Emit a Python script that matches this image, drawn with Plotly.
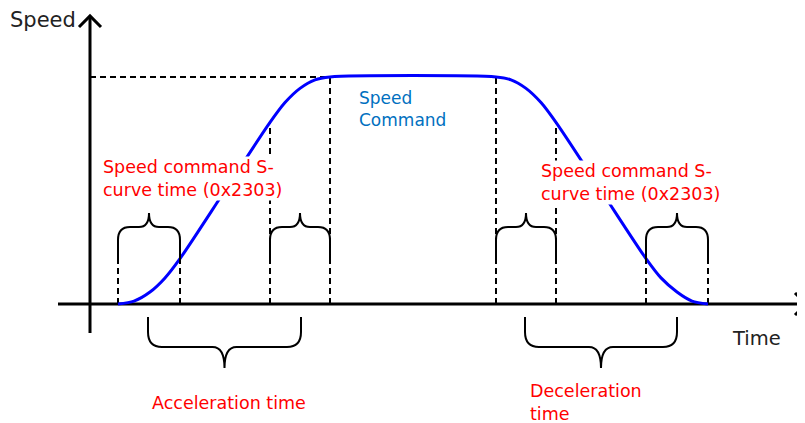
import plotly.graph_objects as go

# ---- data (time units, speed in % of command) ----
curve_t = [28, 44, 60, 75, 90, 135, 180, 195, 210, 225, 240,
           406, 421, 436, 451, 466, 511, 556, 571, 587, 602, 618]
curve_v = [0, 1.3, 5.3, 11.5, 20, 50, 80, 88.75, 95, 98.75, 100,
           100, 98.75, 95, 88.75, 80, 50, 20, 11.5, 5.3, 1.3, 0]

speed_cmd = 100
cmd_end_t = 240
guide_t = [28, 90, 180, 240, 406, 466, 556, 618]
guide_top = [18.5, 18.5, 80, 100, 100, 80, 18.5, 18.5]

scurve_spans = [(28, 90), (180, 240), (406, 466), (556, 618)]
time_spans = [(58, 211), (435, 587)]

labels = {
    "speed": "Speed",
    "time": "Time",
    "cmd": "Speed<br>Command",
    "scurve": "Speed command S-<br>curve time (0x2303)",
    "acc": "Acceleration time",
    "dec": "Deceleration<br>time",
}

# ---- geometry (page body has an 8px margin, compensated here) ----
X_RANGE = [-82, 723]
Y_RANGE = [-55.95, 130.4]

fig = go.Figure()

# axes
fig.add_trace(go.Scatter(x=[-32, 716], y=[0, 0], mode="lines",
                         line=dict(color="black", width=3), hoverinfo="skip"))
fig.add_trace(go.Scatter(x=[705, 716, 705], y=[4.85, 0, -4.85], mode="lines",
                         line=dict(color="black", width=3), hoverinfo="skip"))
fig.add_trace(go.Scatter(x=[0, 0], y=[-12.8, 126.9], mode="lines",
                         line=dict(color="black", width=3), hoverinfo="skip"))
fig.add_trace(go.Scatter(x=[-11, 0, 11], y=[122, 126.9, 122], mode="lines",
                         line=dict(color="black", width=3), hoverinfo="skip"))

# dashed guides
dash = dict(color="black", width=2, dash="6px,4px")
fig.add_trace(go.Scatter(x=[0, cmd_end_t], y=[speed_cmd, speed_cmd], mode="lines",
                         line=dash, hoverinfo="skip"))
for t, top in zip(guide_t, guide_top):
    fig.add_trace(go.Scatter(x=[t, t], y=[0, top], mode="lines",
                             line=dash, hoverinfo="skip"))

# speed curve
fig.add_trace(go.Scatter(x=curve_t, y=curve_v, mode="lines",
                         line=dict(color="#0000FF", width=3, shape="spline", smoothing=0.8),
                         hoverinfo="skip"))


def brace(xa, xb, yb, ys, yh, yt, r=12, r2=10):
    xm = (xa + xb) / 2
    return (f"M {xa},{yb} L {xa},{ys} Q {xa},{yh} {xa + r},{yh} "
            f"L {xm - r2},{yh} Q {xm},{yh} {xm},{yt} "
            f"Q {xm},{yh} {xm + r2},{yh} L {xb - r},{yh} "
            f"Q {xb},{yh} {xb},{ys} L {xb},{yb}")


shapes = []
for xa, xb in scurve_spans:
    shapes.append(dict(type="path", xref="x", yref="y",
                       path=brace(xa, xb, 18.5, 28.2, 33.9, 40.1),
                       line=dict(color="black", width=2)))
for xa, xb in time_spans:
    shapes.append(dict(type="path", xref="x", yref="y",
                       path=brace(xa, xb, -5.7, -12.3, -18.9, -28.2, r=14, r2=12),
                       line=dict(color="black", width=2)))

F = "DejaVu Sans"
ann = [
    dict(x=-82, y=125.1, text=labels["speed"], xanchor="left", yanchor="middle",
         font=dict(family=F, size=21, color="#222222")),
    dict(x=640, y=-15, text=labels["time"], xanchor="left", yanchor="middle",
         font=dict(family=F, size=19.5, color="#222222")),
    dict(x=267, y=85.9, text=labels["cmd"], xanchor="left", yanchor="middle", align="left",
         font=dict(family=F, size=17, color="#0070C0")),
    dict(x=12, y=55.3, text=labels["scurve"], xanchor="left", yanchor="middle", align="left",
         bgcolor="white", borderpad=0, font=dict(family=F, size=17.5, color="#FF0000")),
    dict(x=450, y=53.7, text=labels["scurve"], xanchor="left", yanchor="middle", align="left",
         bgcolor="white", borderpad=0, font=dict(family=F, size=17.5, color="#FF0000")),
    dict(x=60, y=-43.6, text=labels["acc"], xanchor="left", yanchor="middle",
         font=dict(family=F, size=17.5, color="#FF0000")),
    dict(x=438, y=-43.2, text=labels["dec"], xanchor="left", yanchor="middle", align="left",
         font=dict(family=F, size=17.5, color="#FF0000")),
]
for a in ann:
    a.update(xref="x", yref="y", showarrow=False)

fig.update_layout(
    width=805, height=423,
    margin=dict(l=0, r=0, t=0, b=0),
    paper_bgcolor="white", plot_bgcolor="white",
    showlegend=False,
    xaxis=dict(range=X_RANGE, visible=False, fixedrange=True),
    yaxis=dict(range=Y_RANGE, visible=False, fixedrange=True),
    shapes=shapes,
    annotations=ann,
)

fig.write_html("out.html")
